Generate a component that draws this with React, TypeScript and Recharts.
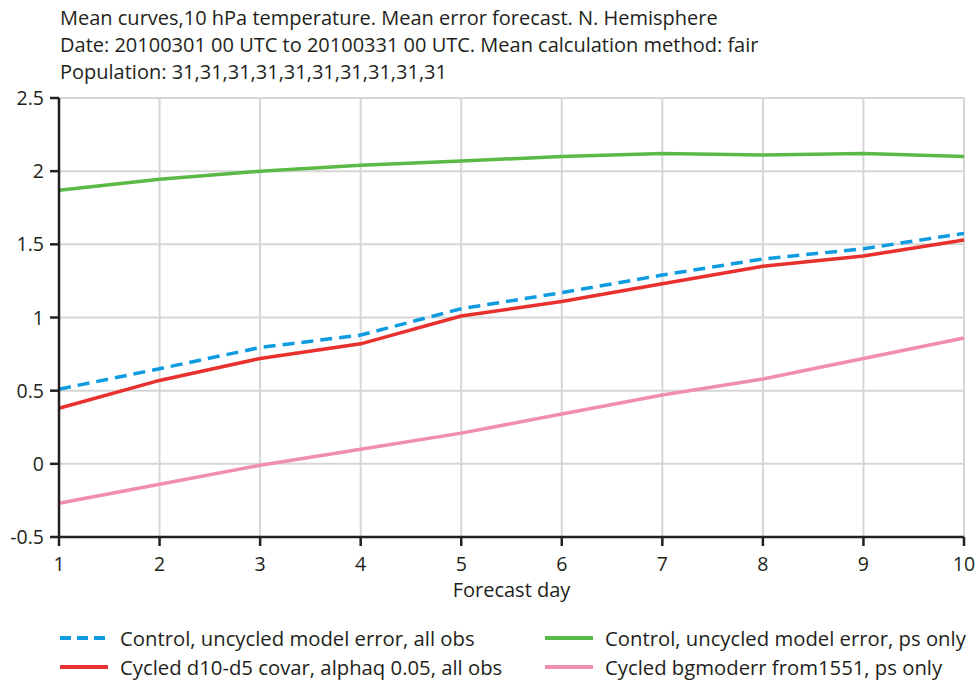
import { LineChart, Line, XAxis, YAxis, CartesianGrid } from "recharts"

const days = [1, 2, 3, 4, 5, 6, 7, 8, 9, 10]
const controlAll = [0.51, 0.65, 0.795, 0.88, 1.06, 1.17, 1.29, 1.4, 1.47, 1.575]
const controlPs = [1.87, 1.945, 2.0, 2.04, 2.07, 2.1, 2.12, 2.11, 2.12, 2.1]
const cycledAll = [0.38, 0.57, 0.72, 0.82, 1.01, 1.11, 1.23, 1.35, 1.42, 1.53]
const cycledPs = [-0.27, -0.14, -0.01, 0.1, 0.21, 0.34, 0.47, 0.58, 0.72, 0.86]
const yTicks = [-0.5, 0, 0.5, 1, 1.5, 2, 2.5]
const titleLines = [
  "Mean curves,10 hPa temperature. Mean error forecast. N. Hemisphere",
  "Date: 20100301 00 UTC to 20100331 00 UTC. Mean calculation method: fair",
  "Population: 31,31,31,31,31,31,31,31,31,31",
]

const data = days.map((d, i) => ({
  day: d,
  controlAll: controlAll[i],
  controlPs: controlPs[i],
  cycledAll: cycledAll[i],
  cycledPs: cycledPs[i],
}))

const font = "'Open Sans', sans-serif"
const axisColor = "#231f20"
const tickStyle = { fontSize: "19.5px", fontFamily: font, fill: axisColor }

const legendItems = [
  { label: "Control, uncycled model error, all obs", color: "#0f9be0", dash: true, x: 60, y: 638 },
  { label: "Control, uncycled model error, ps only", color: "#5bb946", dash: false, x: 545, y: 638 },
  { label: "Cycled d10-d5 covar, alphaq 0.05, all obs", color: "#e8302f", dash: false, x: 60, y: 667 },
  { label: "Cycled bgmoderr from1551, ps only", color: "#f08db0", dash: false, x: 545, y: 667 },
]

const renderXTick = (props: any) => (
  <text key={props.index} x={props.x} y={props.y + 23} textAnchor="middle" style={tickStyle}>
    {props.payload.value}
  </text>
)

const renderYTick = (props: any) => (
  <text key={props.index} x={props.x - 4} y={props.y + 7} textAnchor="end" style={tickStyle}>
    {props.payload.value}
  </text>
)

export default function App() {
  return (
    <div style={{ position: "fixed", left: 0, top: 0, width: 979, height: 684, background: "#fff", fontFamily: font, color: axisColor }}>
      {titleLines.map((t, i) => (
        <div key={i} style={{ position: "absolute", left: 60, top: 4 + i * 27, fontSize: 20, lineHeight: "27px", whiteSpace: "nowrap" }}>
          {t}
        </div>
      ))}
      <LineChart
        width={979}
        height={684}
        data={data}
        margin={{ top: 98, left: 9, right: 15, bottom: 117 }}
        style={{ position: "absolute", left: 0, top: 0 }}
      >
        <CartesianGrid stroke="#d6d6d6" strokeWidth={2} />
        <XAxis
          dataKey="day"
          type="number"
          domain={[1, 10]}
          ticks={days}
          height={30}
          stroke={axisColor}
          strokeWidth={2.5}
          tickSize={9}
          tick={renderXTick}
          label={{ value: "Forecast day", position: "insideBottom", offset: -30, fill: axisColor, fontSize: 20, fontFamily: font }}
        />
        <XAxis xAxisId="top" dataKey="day" type="number" domain={[1, 10]} orientation="top" height={0} tick={false} tickLine={false} stroke={axisColor} strokeWidth={2.5} />
        <YAxis
          domain={[-0.5, 2.5]}
          ticks={yTicks}
          width={50}
          stroke={axisColor}
          strokeWidth={2.5}
          tickSize={9}
          tick={renderYTick}
        />
        <YAxis yAxisId="right" orientation="right" width={0} tick={false} tickLine={false} stroke={axisColor} strokeWidth={2.5} />
        <Line dataKey="controlPs" stroke="#5bb946" strokeWidth={3.5} dot={false} isAnimationActive={false} />
        <Line dataKey="cycledPs" stroke="#f08db0" strokeWidth={3.5} dot={false} isAnimationActive={false} />
        <Line dataKey="cycledAll" stroke="#e8302f" strokeWidth={3.5} dot={false} isAnimationActive={false} />
        <Line dataKey="controlAll" stroke="#0f9be0" strokeWidth={3.5} strokeDasharray="12 7" dot={false} isAnimationActive={false} />
      </LineChart>
      {legendItems.map((it) => (
        <div key={it.label} style={{ position: "absolute", left: it.x, top: it.y - 12, height: 24, display: "flex", alignItems: "center", fontSize: 20.3, whiteSpace: "nowrap" }}>
          <svg width={48} height={6} style={{ marginRight: 12 }}>
            <line x1={0} y1={3} x2={48} y2={3} stroke={it.color} strokeWidth={4} strokeDasharray={it.dash ? "11 6" : undefined} />
          </svg>
          {it.label}
        </div>
      ))}
    </div>
  )
}
